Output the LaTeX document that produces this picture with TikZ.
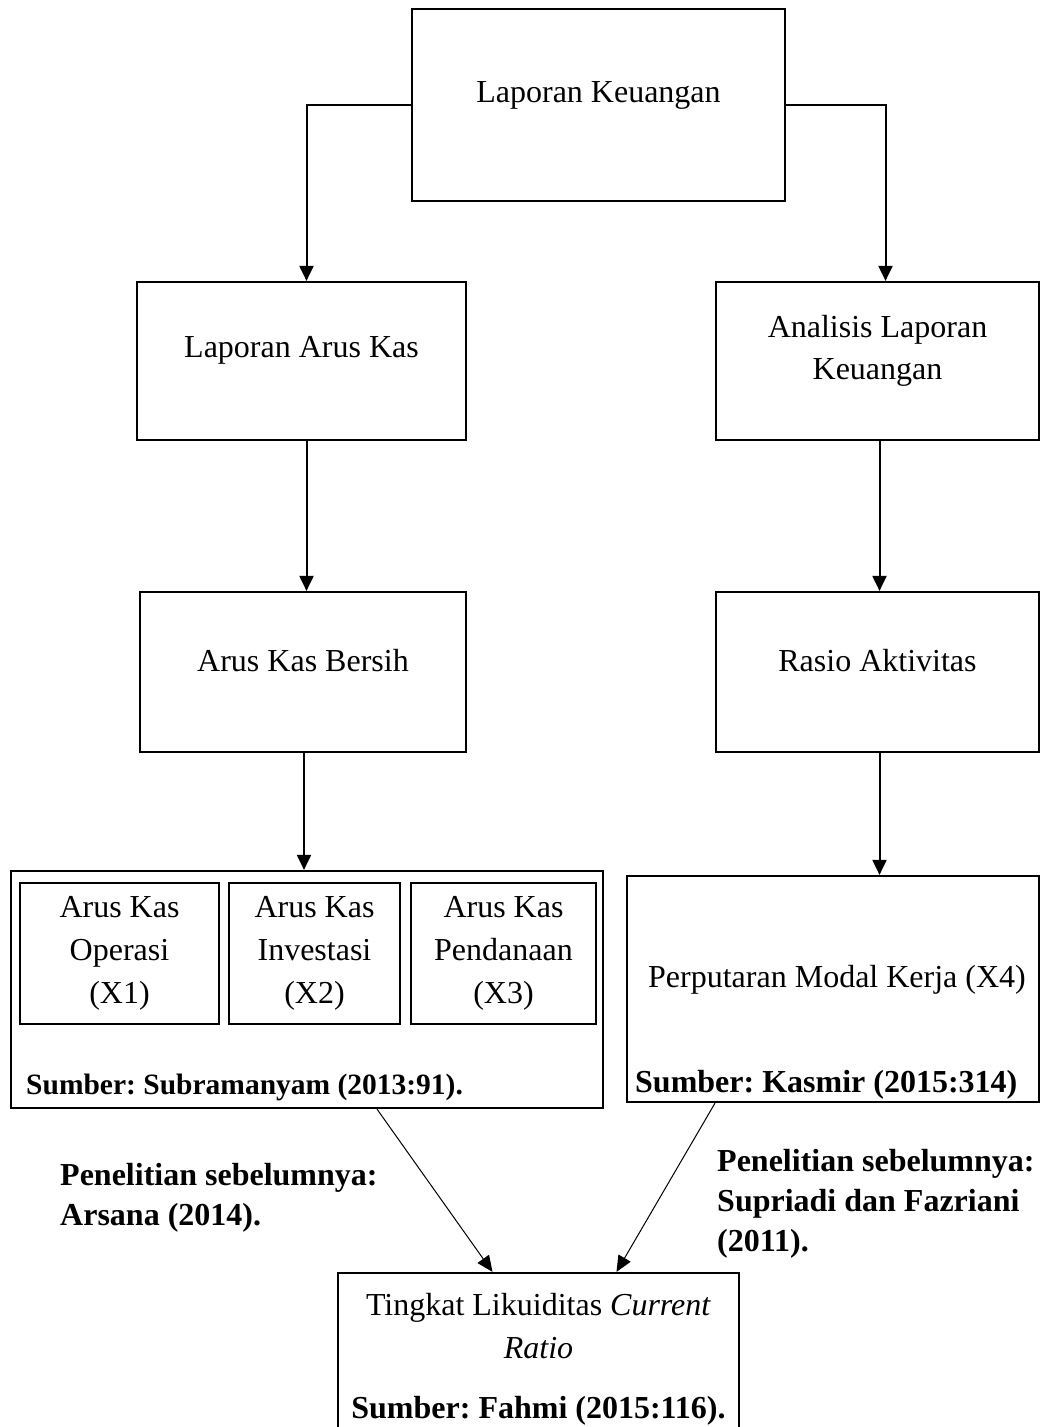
\documentclass[tikz,border=0pt]{standalone}
\usepackage{fontspec}
\setmainfont{Liberation Serif}
\usepackage{tikz}
\usetikzlibrary{positioning, arrows.meta}
\frenchspacing

\begin{document}
\begin{tikzpicture}[
        x=1pt, y=-1pt,
        box/.style={rectangle, draw, line width=2.2pt, inner sep=0pt,
                    align=center, font=\fontsize{32}{43}\selectfont},
        boxtext/.style={align=center, inner sep=0pt,
                        font=\fontsize{32}{42}\selectfont},
        note/.style={align=left, inner sep=0pt,
                     font=\fontsize{32}{40}\selectfont\bfseries},
        arrow/.style={-{Triangle[length=15pt, width=14pt]}, line width=2pt},
        thinarrow/.style={-{Triangle[length=16pt, width=14pt]}, line width=1pt}
    ]
    \useasboundingbox (0,0) rectangle (1041,1427);

    %% TOP: Laporan Keuangan
    \node[box, minimum width=373pt, minimum height=192pt,
          label={[boxtext, yshift=10pt]center:Laporan Keuangan}]
          (lapkeu) at (598.5,105) {};

    %% LEFT BRANCH: arus kas
    \node[box, minimum width=329pt, minimum height=158pt,
          label={[boxtext, yshift=11pt]center:Laporan Arus Kas}]
          (arus) at (301.5,361) {};
    \node[box, minimum width=326pt, minimum height=160pt,
          label={[boxtext, yshift=11pt]center:Arus Kas Bersih}]
          (bersih) at (303,672) {};

    \node[box, minimum width=592pt, minimum height=237pt] (arusbox) at (307,989.5) {};
    \node[box, minimum width=199pt, minimum height=141pt]
          (operasi) at (119.5,953.5) {Arus Kas\\Operasi\\(X1)};
    \node[box, minimum width=171pt, minimum height=141pt]
          (investasi) at (314.5,953.5) {Arus Kas\\Investasi\\(X2)};
    \node[box, minimum width=185pt, minimum height=141pt]
          (pendanaan) at (503.5,953.5) {Arus Kas\\Pendanaan\\(X3)};
    \node[note, anchor=west, font=\fontsize{29.5}{40}\selectfont\bfseries]
          (subram) at (26,1087) {Sumber: Subramanyam (2013:91).};

    %% RIGHT BRANCH: rasio aktivitas
    \node[box, minimum width=323pt, minimum height=158pt,
          label={[boxtext, yshift=10pt]center:Analisis Laporan\\Keuangan}]
          (anal) at (877.5,361) {};
    \node[box, minimum width=323pt, minimum height=160pt,
          label={[boxtext, yshift=11pt]center:Rasio Aktivitas}]
          (rasio) at (877.5,672) {};
    \node[box, minimum width=412pt, minimum height=226pt,
          label={[boxtext, yshift=9pt, xshift=4pt]center:Perputaran Modal Kerja (X4)}]
          (modal) at (833,989) {};
    \node[note, anchor=west] (kasmir) at (635,1085) {Sumber: Kasmir (2015:314)};

    %% BOTTOM: Current Ratio
    \node[box, minimum width=401pt, minimum height=172pt]
          (likuid) at (538.5,1359)
          {Tingkat Likuiditas \textit{Current}\\\textit{Ratio}\\[17pt]
           \textbf{Sumber: Fahmi (2015:116).}};

    \node[note, anchor=west] (arsana) at (60,1198)
          {Penelitian sebelumnya:\\Arsana (2014).};
    \node[note, anchor=west] (supriadi) at (717,1204)
          {Penelitian sebelumnya:\\Supriadi dan Fazriani\\(2011).};

    %% connectors
    \draw[arrow] (lapkeu.west) -| ([xshift=5pt]arus.north);
    \draw[arrow] (lapkeu.east) -| ([xshift=8pt]anal.north);
    \draw[arrow] ([xshift=5pt]arus.south) -- ([xshift=5pt]arus.south |- bersih.north);
    \draw[arrow] ([xshift=1pt]bersih.south) -- ([xshift=1pt]bersih.south |- arusbox.north);
    \draw[arrow] ([xshift=2pt]anal.south) -- ([xshift=2pt]anal.south |- rasio.north);
    \draw[arrow] ([xshift=2pt]rasio.south) -- ([xshift=2pt]rasio.south |- modal.north);
    \draw[thinarrow] ([xshift=70pt]arusbox.south) -- ([xshift=-46pt]likuid.north);
    \draw[thinarrow] ([xshift=-118pt]modal.south) -- ([xshift=78pt]likuid.north);

\end{tikzpicture}
\end{document}
